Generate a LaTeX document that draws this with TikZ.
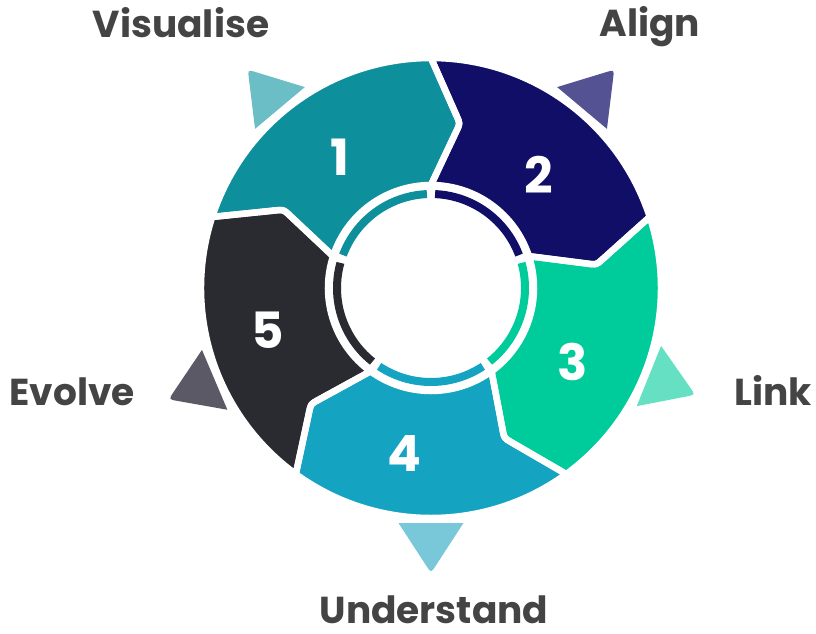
\documentclass[tikz,border=0pt]{standalone}
\usepackage{fontspec}
\setmainfont{Poppins}
\usetikzlibrary{calc}

\definecolor{segA}{HTML}{0E8F9C}
\definecolor{segB}{HTML}{100E66}
\definecolor{segC}{HTML}{00CC9B}
\definecolor{segD}{HTML}{14A3C1}
\definecolor{segE}{HTML}{2A2B30}
\definecolor{triA}{HTML}{6BBEC5}
\definecolor{triB}{HTML}{555293}
\definecolor{triC}{HTML}{66E0C3}
\definecolor{triD}{HTML}{78C8DA}
\definecolor{triE}{HTML}{5A5965}
\definecolor{labelgray}{HTML}{444444}

% ring radii (1 unit = 1pt)
\newcommand\rOut{230}
\newcommand\rIn{103}
\newcommand\rMid{167}

% sets the corner points of one ring piece whose leading (clockwise) edge is at angle #1
\newcommand\piecepoints[1]{%
  \pgfmathsetmacro\angA{#1}%
  \pgfmathsetmacro\angB{#1+72}%
  \pgfmathsetmacro\angT{#1-10}%
  \pgfmathsetmacro\angN{#1+62}%
  \coordinate (o1) at (\angB:\rOut);
  \coordinate (o2) at (\angA:\rOut);
  \coordinate (t)  at (\angT:\rMid);
  \coordinate (i2) at (\angA:\rIn);
  \coordinate (i1) at (\angB:\rIn);
  \coordinate (n)  at (\angN:\rMid);
}
\newcommand\piecepath{(o1) arc[start angle=\angB, end angle=\angA, radius=\rOut]
  -- ($(t)!8pt!(o2)$) .. controls (t) .. ($(t)!8pt!(i2)$)
  -- (i2) arc[start angle=\angA, end angle=\angB, radius=\rIn]
  -- ($(n)!8pt!(i1)$) .. controls (n) .. ($(n)!8pt!(o1)$) -- cycle}

\tikzset{
  steplabel/.style={text=labelgray, font=\fontsize{37.5}{42}\selectfont\bfseries, inner sep=0pt, anchor=base},
  stepnum/.style={text=white, font=\fontsize{50}{54}\selectfont\bfseries, inner sep=0pt, anchor=center},
}

\begin{document}
\begin{tikzpicture}[x=1pt,y=1pt]
\useasboundingbox (-431,-345) rectangle (385,288);

% ring pieces: fill, then white separating strokes
\foreach \a/\c in {90/segA, 18/segB, -54/segC, -126/segD, 162/segE}{
  \piecepoints{\a}
  \fill[\c] \piecepath;
}
\foreach \a in {90, 18, -54, -126, 162}{
  \piecepoints{\a}
  \draw[white, line width=6.5pt, line join=round] \piecepath;
}

% thin inner ring
\foreach \a/\c in {90/segA, 18/segB, -54/segC, -126/segD, 162/segE}{
  \pgfmathsetmacro\sA{\a+2.5}
  \pgfmathsetmacro\sB{\a+69.5}
  \draw[\c, line width=8pt] (\sA:94) arc[start angle=\sA, end angle=\sB, radius=94];
}

% outer pointers
\foreach \p/\c in {130/triA, 50/triB, -22/triC, -90/triD, -157/triE}{
  \begin{scope}[shift={(\p:235)}, rotate=\p-90]
    \fill[\c] (-32.5,0) -- (32.5,0) -- ($(32.5,0)!0.85!(0,50)$)
      .. controls (0,50) .. ($(-32.5,0)!0.85!(0,50)$) -- cycle;
  \end{scope}
}

% step numbers
\node[stepnum] (n1) at (-91,131) {1};
\node[stepnum] (n2) at (108,113) {2};
\node[stepnum] (n3) at (142,-74) {3};
\node[stepnum] (n4) at (-27,-165) {4};
\node[stepnum] (n5) at (-163,-42) {5};

% step names
\node[steplabel] (visualise) at (-250,251) {Visualise};
\node[steplabel] (align) at (219,252) {Align};
\node[steplabel] (link) at (342,-117) {Link};
\node[steplabel, text depth=0pt] (understand) at (3,-335) {Understand};
\node[steplabel] (evolve) at (-359,-117) {Evolve};
\end{tikzpicture}
\end{document}
